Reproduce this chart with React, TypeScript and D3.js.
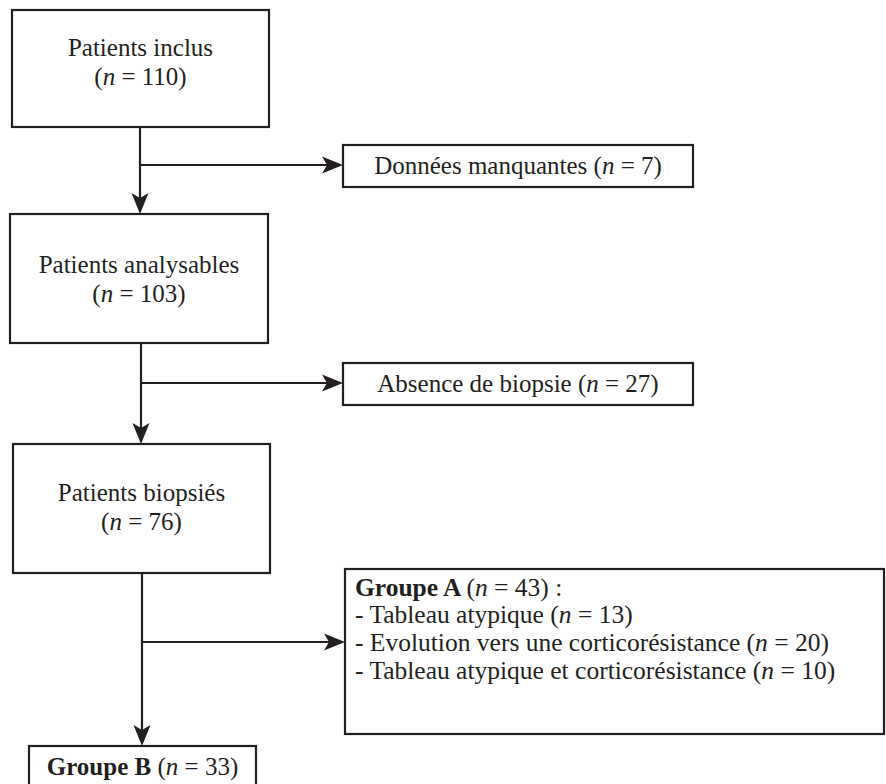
import React, { useRef, useEffect } from 'react';
import * as d3 from 'd3';

// flowchart content
const mainLabels = ['Patients inclus', 'Patients analysables', 'Patients biopsiés'];
const mainCounts = [110, 103, 76];
const exclusionLabels = ['Données manquantes', 'Absence de biopsie'];
const exclusionCounts = [7, 27];
const groupALabel = 'Groupe A';
const groupACount = 43;
const groupADetails = ['Tableau atypique', 'Evolution vers une corticorésistance', 'Tableau atypique et corticorésistance'];
const groupADetailCounts = [13, 20, 10];
const groupBLabel = 'Groupe B';
const groupBCount = 33;

const W = 886;
const H = 784;
const INK = '#231f20';
const FONT = '"Liberation Serif", "Times New Roman", serif';

export default function App() {
	const ref = useRef<SVGSVGElement>(null);

	useEffect(() => {
		if (!ref.current) return;
		const svg = d3.select(ref.current);
		svg.selectAll('*').remove();

		const g = svg.append('g').attr('font-family', FONT).attr('font-size', 25).attr('fill', INK);

		// geometry of the boxes
		const mainBoxes = [
			{ x: 12, y: 10, w: 257, h: 117, base: 56 },
			{ x: 10, y: 214, w: 258, h: 129, base: 273 },
			{ x: 13, y: 444, w: 257, h: 129, base: 501 },
		];
		const sideBoxes = [
			{ x: 343, y: 145, w: 350, h: 42, arrowY: 165 },
			{ x: 343, y: 363, w: 350, h: 42, arrowY: 383 },
		];
		const groupABox = { x: 345, y: 569, w: 539, h: 165, arrowY: 642 };
		const groupBBox = { x: 29, y: 746, w: 227, h: 40 };
		const spineX = [140, 141, 142];

		const rect = (b: { x: number; y: number; w: number; h: number }) =>
			g.append('rect')
				.attr('x', b.x)
				.attr('y', b.y)
				.attr('width', b.w)
				.attr('height', b.h)
				.attr('fill', '#fff')
				.attr('stroke', INK)
				.attr('stroke-width', 2.2);

		const line = d3.line<[number, number]>();
		const seg = (pts: [number, number][]) =>
			g.append('path').attr('d', line(pts)).attr('fill', 'none').attr('stroke', INK).attr('stroke-width', 2.2);

		// arrow head pointing in a direction (angle in degrees, 0 = right)
		const head = (x: number, y: number, angle: number) =>
			g.append('path')
				.attr('d', 'M0,0 L-21,-8.5 L-16,0 L-21,8.5 Z')
				.attr('transform', `translate(${x},${y}) rotate(${angle})`)
				.attr('fill', INK);

		// "(n = X)" with italic n
		const countText = (t: any, n: number) => {
			t.append('tspan').text('(');
			t.append('tspan').attr('font-style', 'italic').text('n');
			t.append('tspan').text(` = ${n})`);
		};

		mainBoxes.forEach((b, i) => {
			rect(b);
			const cx = b.x + b.w / 2;
			g.append('text').attr('x', cx).attr('y', b.base).attr('text-anchor', 'middle').text(mainLabels[i]);
			const t = g.append('text').attr('x', cx).attr('y', b.base + 29).attr('text-anchor', 'middle');
			countText(t, mainCounts[i]);
		});

		// connectors between main boxes and side branches
		sideBoxes.forEach((s, i) => {
			const top = mainBoxes[i];
			const next = mainBoxes[i + 1];
			const x = spineX[i];
			seg([[x, top.y + top.h], [x, next.y - 4]]);
			head(x, next.y, 90);
			seg([[x, s.arrowY], [s.x - 4, s.arrowY]]);
			head(s.x, s.arrowY, 0);
			rect(s);
			const t = g.append('text').attr('x', s.x + s.w / 2).attr('y', s.y + 29).attr('text-anchor', 'middle');
			t.append('tspan').text(`${exclusionLabels[i]} `);
			countText(t, exclusionCounts[i]);
		});

		// last split: group A / group B
		const last = mainBoxes[2];
		const x3 = spineX[2];
		seg([[x3, last.y + last.h], [x3, groupBBox.y - 4]]);
		head(x3, groupBBox.y, 90);
		seg([[x3, groupABox.arrowY], [groupABox.x - 4, groupABox.arrowY]]);
		head(groupABox.x, groupABox.arrowY, 0);

		rect(groupABox);
		const lx = groupABox.x + 10;
		const ta = g.append('text').attr('x', lx).attr('y', groupABox.y + 27).attr('font-size', 25.5);
		ta.append('tspan').attr('font-weight', 'bold').text(`${groupALabel} `);
		countText(ta, groupACount);
		ta.append('tspan').text(' :');
		groupADetails.forEach((d, i) => {
			const t = g.append('text').attr('x', lx).attr('y', groupABox.y + 54 + i * 28).attr('font-size', 25.5);
			t.append('tspan').text(`- ${d} `);
			countText(t, groupADetailCounts[i]);
		});

		rect(groupBBox);
		const tb = g.append('text').attr('x', groupBBox.x + groupBBox.w / 2).attr('y', groupBBox.y + 29).attr('text-anchor', 'middle');
		tb.append('tspan').attr('font-weight', 'bold').text(`${groupBLabel} `);
		countText(tb, groupBCount);
	}, []);

	return (
		<svg
			ref={ref}
			width={W}
			height={H}
			style={{ position: 'absolute', left: 0, top: 0, background: '#fff' }}
		/>
	);
}
